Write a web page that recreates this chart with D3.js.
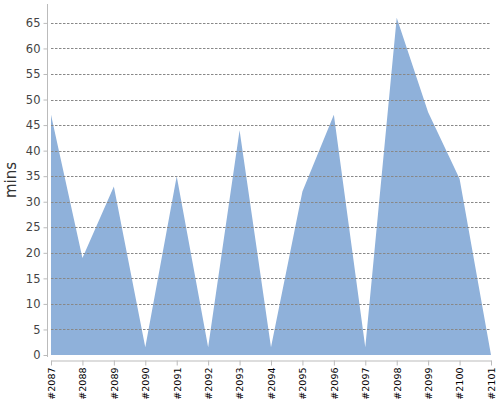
<!DOCTYPE html>
<html>
<head>
<meta charset="utf-8">
<script src="https://cdn.jsdelivr.net/npm/d3@7"></script>
<style>
  body { margin: 0; background: #fff; }
  svg, svg text { font-family: "DejaVu Sans", sans-serif; }
</style>
</head>
<body>
<div class="chart"></div>
<script>
// Chart data
var episodes = ["#2087", "#2088", "#2089", "#2090", "#2091", "#2092", "#2093", "#2094",
                "#2095", "#2096", "#2097", "#2098", "#2099", "#2100", "#2101"];
var minutes = [47, 19, 33, 1.5, 35, 1.5, 44, 1.5, 32, 47, 1.5, 66, 47.5, 34.5, 0];
var yTicks = [0, 5, 10, 15, 20, 25, 30, 35, 40, 45, 50, 55, 60, 65];

var svgWidth = 500;
var svgHeight = 400;

var margin = { top: 4, right: 9, bottom: 45, left: 51 };
var width = svgWidth - margin.left - margin.right;
var plotBottom = 351; // y=0 baseline inside chart group

var svg = d3.select(".chart")
  .append("svg")
  .attr("width", svgWidth)
  .attr("height", svgHeight);

var chartGroup = svg.append("g")
  .attr("transform", `translate(${margin.left}, ${margin.top})`);

var data = episodes.map((e, i) => ({ ep: e, mins: minutes[i] }));

// Scales
var xScale = d3.scalePoint().domain(episodes).range([0, width]);
var yScale = d3.scaleLinear().domain([0, 68.7]).range([plotBottom, 0]);

// Area
var area = d3.area()
  .x(d => xScale(d.ep))
  .y0(yScale(0))
  .y1(d => yScale(d.mins));

chartGroup.append("path")
  .datum(data)
  .attr("d", area)
  .attr("fill", "#8fb1da");

// Grid lines (on top of the area)
chartGroup.append("g")
  .selectAll("line")
  .data(yTicks.filter(t => t > 0))
  .enter()
  .append("line")
  .attr("x1", 0)
  .attr("x2", width)
  .attr("y1", d => Math.round(yScale(d)) + 0.5)
  .attr("y2", d => Math.round(yScale(d)) + 0.5)
  .attr("stroke", "#888")
  .attr("stroke-dasharray", "2.5,1.5");

// Y axis
var yAxis = d3.axisLeft(yScale).tickValues(yTicks).tickSize(4).tickSizeOuter(0);
var yG = chartGroup.append("g")
  .attr("transform", "translate(-3.5, 0)")
  .attr("font-family", "DejaVu Sans, sans-serif")
  .call(yAxis);
yG.select(".domain").attr("stroke", "#bbb").attr("d", `M0,0V${plotBottom + 2}`);
yG.selectAll(".tick line").attr("stroke", "#bbb");
yG.selectAll(".tick text").attr("fill", "#444").attr("font-size", 11.5).attr("x", -7);

// X axis
var xAxis = d3.axisBottom(xScale).tickSize(5).tickSizeOuter(0);
var xG = chartGroup.append("g")
  .attr("transform", `translate(0, ${plotBottom + 5.5})`)
  .attr("font-family", "DejaVu Sans, sans-serif")
  .call(xAxis);
xG.select(".domain").attr("stroke", "#bbb");
xG.selectAll(".tick line").attr("stroke", "#bbb");
xG.selectAll(".tick text")
  .attr("fill", "#000")
  .attr("font-size", 9.5)
  .attr("transform", "rotate(-90)")
  .attr("text-anchor", "end")
  .attr("x", -7)
  .attr("y", 0)
  .attr("dy", "0.35em");

// Axis label
chartGroup.append("text")
  .attr("transform", "rotate(-90)")
  .attr("x", -176)
  .attr("y", -35)
  .attr("text-anchor", "middle")
  .attr("font-size", 15)
  .attr("fill", "#333")
  .text("mins");
</script>
</body>
</html>
